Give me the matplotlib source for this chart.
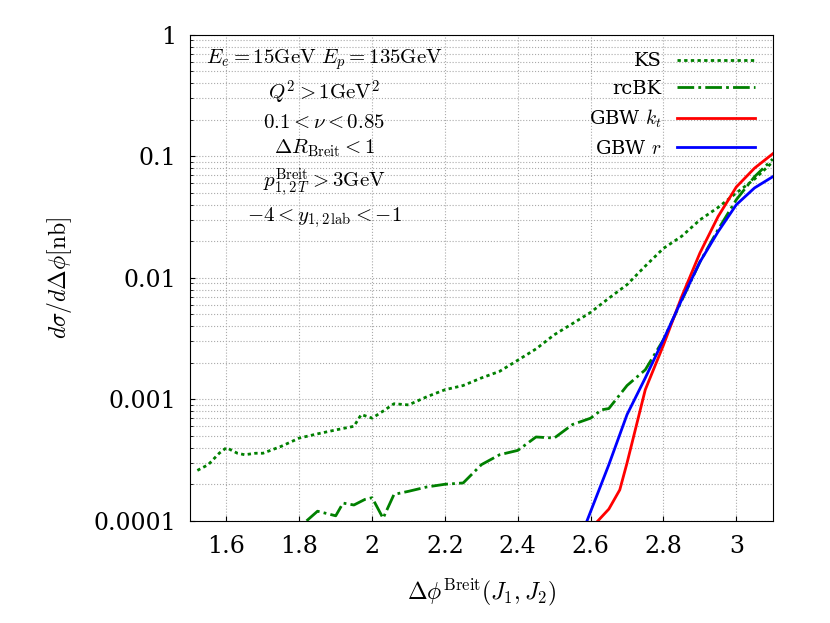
import matplotlib
matplotlib.use("Agg")
import matplotlib.pyplot as plt
import numpy as np

plt.rcParams["mathtext.fontset"] = "cm"
plt.rcParams["font.family"] = "DejaVu Serif"

ks_x = [1.52,1.55,1.58,1.6,1.63,1.65,1.68,1.7,1.75,1.8,1.85,1.9,1.95,1.97,2.0,2.03,2.06,2.1,2.15,2.2,2.25,2.3,2.35,2.4,2.45,2.5,2.55,2.6,2.65,2.7,2.75,2.8,2.85,2.9,2.95,3.0,3.05,3.1]
ks_y = [2.6e-4,2.9e-4,3.6e-4,4.0e-4,3.6e-4,3.5e-4,3.6e-4,3.6e-4,4.1e-4,4.8e-4,5.2e-4,5.6e-4,6.0e-4,7.5e-4,7.0e-4,8.0e-4,9.2e-4,9.0e-4,1.05e-3,1.2e-3,1.3e-3,1.5e-3,1.7e-3,2.1e-3,2.6e-3,3.4e-3,4.2e-3,5.2e-3,6.8e-3,8.8e-3,0.0125,0.0175,0.022,0.03,0.038,0.05,0.065,0.09]
rc_x = [1.82,1.85,1.9,1.92,1.95,1.98,2.0,2.03,2.06,2.1,2.15,2.2,2.25,2.3,2.35,2.4,2.45,2.5,2.55,2.6,2.63,2.65,2.7,2.75,2.8,2.85,2.9,2.95,3.0,3.05,3.1]
rc_y = [1.0e-4,1.2e-4,1.1e-4,1.4e-4,1.35e-4,1.5e-4,1.55e-4,1.05e-4,1.65e-4,1.75e-4,1.9e-4,2.0e-4,2.05e-4,2.9e-4,3.5e-4,3.8e-4,4.9e-4,4.8e-4,6.2e-4,7.0e-4,8.2e-4,8.4e-4,1.3e-3,1.75e-3,3.1e-3,6.5e-3,0.0135,0.025,0.044,0.068,0.095]
kt_x = [2.62,2.65,2.68,2.7,2.75,2.8,2.85,2.9,2.95,3.0,3.05,3.1]
kt_y = [1.0e-4,1.25e-4,1.8e-4,3.0e-4,1.2e-3,2.8e-3,7.0e-3,0.016,0.032,0.056,0.08,0.105]
r_x = [2.59,2.65,2.7,2.75,2.8,2.85,2.9,2.95,3.0,3.05,3.1]
r_y = [1.0e-4,2.9e-4,7.5e-4,1.5e-3,3.1e-3,6.6e-3,0.0135,0.024,0.04,0.055,0.068]

fig, ax = plt.subplots(figsize=(8.30, 6.23), dpi=100)
fig.subplots_adjust(left=0.229, right=0.931, top=0.944, bottom=0.164)
ax.plot(ks_x, ks_y, color="#008000", ls=(0, (1.2, 1.2)), lw=2, label="KS")
ax.plot(rc_x, rc_y, color="#008000", ls=(0, (6, 1.5, 1, 1.5)), lw=2, label="rcBK")
ax.plot(kt_x, kt_y, color="red", lw=2, label=r"GBW $k_t$")
ax.plot(r_x, r_y, color="blue", lw=2, label=r"GBW $r$")
ax.set_yscale("log")
ax.set_xlim(1.5, 3.1)
ax.set_ylim(1e-4, 1)
ax.set_xticks([1.6,1.8,2,2.2,2.4,2.6,2.8,3])
ax.set_xticklabels(["1.6","1.8","2","2.2","2.4","2.6","2.8","3"])
ax.set_yticks([1e-4,1e-3,1e-2,0.1,1])
ax.set_yticklabels(["0.0001","0.001","0.01","0.1","1"])
ax.tick_params(labelsize=17, direction="in", which="both", pad=10)
ax.grid(True, which="major", color="#aaaaaa", ls=":", lw=0.8)
ax.grid(True, which="minor", axis="y", color="#aaaaaa", ls=":", lw=0.8)
ax.set_xlabel(r"$\Delta\phi^{\mathrm{Breit}}(J_1,J_2)$", fontsize=17, labelpad=14)
ax.set_ylabel(r"$d\sigma/d\Delta\phi[\mathrm{nb}]$", fontsize=17, labelpad=14)
ax.legend(loc="upper right", frameon=False, fontsize=14, markerfirst=False, handlelength=4, labelspacing=0.5)
txt = "\n".join([r"$E_e=15\mathrm{GeV}\ E_p=135\mathrm{GeV}$",
                 r"$Q^2>1\mathrm{GeV}^2$",
                 r"$0.1<\nu<0.85$",
                 r"$\Delta R_{\mathrm{Breit}}<1$",
                 r"$p_{1,2\,T}^{\mathrm{Breit}}>3\mathrm{GeV}$",
                 r"$-4<y_{1,2\,\mathrm{lab}}<-1$"])
ax.text(0.23, 0.975, txt, transform=ax.transAxes, ha="center", va="top", fontsize=15, linespacing=1.35)
fig.savefig("out.png")
